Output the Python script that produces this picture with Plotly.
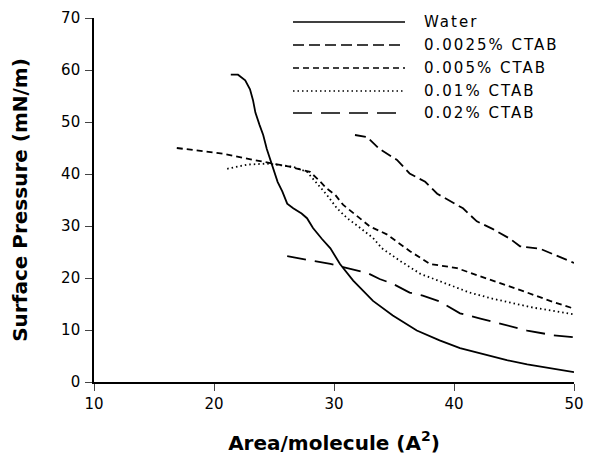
import plotly.graph_objects as go

# ---- data ----
water_x = [21.4, 22.0, 22.6, 23.0, 23.25, 23.45, 23.8, 24.1, 24.4, 24.7, 24.9, 25.3, 25.7, 26.1,
           26.6, 27.3, 27.75, 28.25, 29.0, 29.7, 30.5, 31.6, 33.25, 34.9, 36.9, 38.8, 40.5,
           42.2, 44.4, 46.1, 48.0, 49.5, 50.0]
water_y = [59.1, 59.1, 58.0, 56.3, 54.2, 51.8, 49.4, 47.5, 44.8, 42.7, 41.0, 38.5, 36.6, 34.3,
           33.4, 32.4, 31.5, 29.6, 27.5, 25.7, 22.7, 19.5, 15.6, 12.8, 9.9, 8.0, 6.5,
           5.5, 4.2, 3.4, 2.7, 2.1, 1.9]

c0025_x = [31.75, 32.75, 33.8, 35.25, 36.3, 37.6, 38.6, 39.4, 40.75, 41.9, 43.25, 44.7,
           45.5, 47.2, 48.25, 50.0]
c0025_y = [47.5, 47.1, 44.8, 42.7, 40.1, 38.5, 36.2, 35.1, 33.4, 30.9, 29.4, 27.5,
           26.1, 25.6, 24.6, 22.9]

c005_x = [16.9, 18.8, 20.75, 22.4, 24.4, 26.3, 28.0, 28.7, 29.4, 30.1, 30.75, 31.9, 33.0,
          34.4, 36.3, 38.0, 40.25, 41.6, 43.8, 46.1, 48.0, 50.0]
c005_y = [45.0, 44.4, 43.9, 43.1, 42.3, 41.4, 40.4, 38.9, 37.2, 36.0, 34.1, 31.9, 29.9,
          28.4, 25.2, 22.7, 21.9, 20.8, 19.1, 17.2, 15.6, 14.1]

c001_x = [21.1, 22.75, 24.4, 26.6, 27.75, 28.6, 29.4, 30.25, 31.1, 32.2, 33.25, 34.0,
          35.5, 37.2, 39.4, 41.3, 43.25, 44.0, 46.6, 48.25, 50.0]
c001_y = [41.0, 41.8, 42.0, 41.4, 40.4, 38.1, 36.0, 33.4, 31.5, 29.6, 27.7, 25.7,
          23.3, 20.8, 18.9, 17.2, 16.0, 15.6, 14.3, 13.7, 13.0]

c002_x = [26.1, 27.75, 29.7, 31.1, 32.75, 33.8, 34.9, 36.3, 37.4, 38.8, 40.5, 42.2,
          43.8, 46.1, 48.25, 50.0]
c002_y = [24.2, 23.5, 22.7, 21.9, 21.0, 19.8, 18.9, 17.2, 16.6, 15.5, 13.2, 12.2,
          11.3, 9.9, 9.0, 8.6]

series_names = ["Water", "0.0025% CTAB", "0.005% CTAB", "0.01% CTAB", "0.02% CTAB"]
series_x = [water_x, c0025_x, c005_x, c001_x, c002_x]
series_y = [water_y, c0025_y, c005_y, c001_y, c002_y]
dashes = ["solid", "11px,5px", "6px,4px", "1.5px,3px", "19px,9px"]

x_ticks = [10, 20, 30, 40, 50]
y_ticks = [0, 10, 20, 30, 40, 50, 60, 70]

FONT = "DejaVu Sans"

fig = go.Figure()
for name, xs, ys, d in zip(series_names, series_x, series_y, dashes):
    fig.add_trace(go.Scatter(x=xs, y=ys, mode="lines", name=name,
                             line=dict(color="black", width=1.8, dash=d),
                             showlegend=False))

# manual legend (long sample lines like the reference); rows in pixel positions
leg_px = [22, 45, 68, 91, 113]
PLOT_TOP, PLOT_BOTTOM = 18, 382
shapes = []
annotations = []
for name, d, py in zip(series_names, dashes, leg_px):
    ly = (PLOT_BOTTOM - py) / (PLOT_BOTTOM - PLOT_TOP)
    shapes.append(dict(type="line", xref="paper", yref="paper", x0=0.4146, x1=0.648,
                       y0=ly, y1=ly, line=dict(color="black", width=1.6, dash=d)))
    annotations.append(dict(text='<span style="letter-spacing:2px">' + name + '</span>',
                            xref="paper", yref="paper", x=0.683, y=ly,
                            xanchor="left", yanchor="middle", showarrow=False,
                            font=dict(family=FONT, size=15, color="black")))

# the page body adds an 8px offset, so margins are shifted to keep the plot area in place
fig.update_layout(
    width=594, height=461,
    margin=dict(l=86, r=28, t=10, b=87),
    paper_bgcolor="white", plot_bgcolor="white",
    shapes=shapes, annotations=annotations,
    showlegend=False,
    xaxis=dict(range=[10, 50], tickvals=x_ticks, ticks="outside", ticklen=7,
               tickwidth=1.3, showline=True, linecolor="black", linewidth=1.6,
               showgrid=False, zeroline=False, automargin=False,
               ticklabeloverflow="allow",
               tickfont=dict(family=FONT, size=15, color="black"),
               title=dict(text="Area/molecule (A<sup>2</sup>)", standoff=24,
                          font=dict(family=FONT, size=20, color="black", weight="bold"))),
    yaxis=dict(range=[0, 70], tickvals=y_ticks, ticks="outside", ticklen=7,
               tickwidth=1.3, showline=True, linecolor="black", linewidth=1.6,
               showgrid=False, zeroline=False, automargin=False, ticklabelstandoff=2,
               ticklabeloverflow="allow",
               tickfont=dict(family=FONT, size=15, color="black"),
               title=dict(text="Surface Pressure (mN/m)", standoff=28,
                          font=dict(family=FONT, size=20, color="black", weight="bold"))),
)

fig.write_html("out.html")
